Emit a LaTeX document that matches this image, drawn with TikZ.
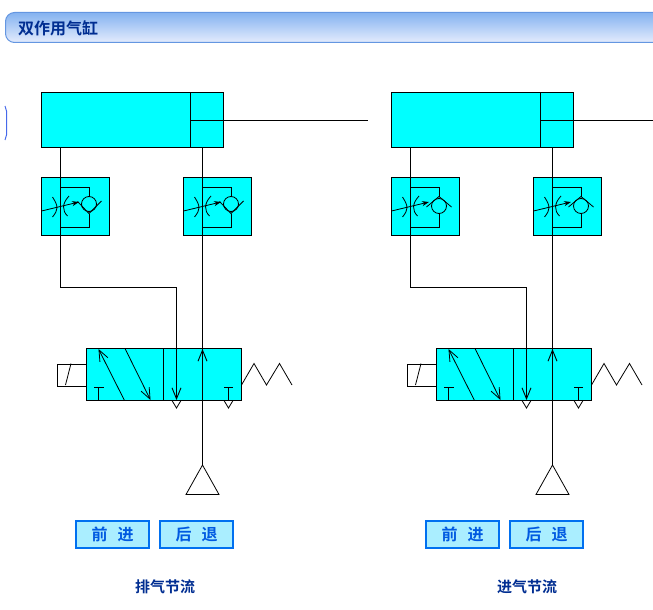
\documentclass[tikz,border=0pt]{standalone}
\usepackage{fontspec}
\newfontfamily\cjk{Noto Sans CJK SC}[BoldFont={Noto Sans CJK SC Bold}]
\usepackage{tikz}
\usetikzlibrary{positioning, arrows.meta}

\definecolor{bodycyan}{RGB}{0,255,255}
\definecolor{headblue}{RGB}{0,45,145}
\definecolor{headline}{RGB}{100,150,225}
\definecolor{headtop}{RGB}{132,178,240}
\definecolor{headmid}{RGB}{170,200,245}
\definecolor{headlow}{RGB}{228,236,253}
\definecolor{btnblue}{RGB}{0,112,240}
\definecolor{btntext}{RGB}{0,90,225}
\definecolor{btnfill}{RGB}{170,238,255}

\tikzset{
    body/.style={rectangle, draw=black, fill=bodycyan, line width=1pt, inner sep=0pt, outer sep=0pt},
    pipe/.style={line width=0.9pt, black},
    sym/.style={line width=0.8pt, black},
    flowtip/.style={-{Stealth[length=7pt, width=5pt]}},
    opentip/.style={-{Straight Barb[length=11pt, width=9pt]}},
    btn/.style={rectangle, draw=btnblue, fill=btnfill, line width=2pt, minimum width=73pt, minimum height=27pt, inner sep=0pt, outer sep=0pt, font=\cjk\bfseries\fontsize{16}{16}\selectfont, text=btntext},
    caption/.style={font=\cjk\bfseries\fontsize{15}{15}\selectfont, text=headblue, inner sep=0pt},
    % flow control symbol, argument 1 = check valve seat below, -1 = seat above
    flowsym/.pic={
        \draw[sym] (11.5,19.5) .. controls (17.5,29) and (17.5,32) .. (11.5,39.5);
        \draw[sym] (28,18.5) .. controls (21,26) and (21,33) .. (26.5,38.5);
        \draw[sym, flowtip] (0.5,33.5) -- (38,24.5);
        \draw[sym] (19,9.5) -- (48,9.5) -- (48,19);
        \draw[sym] (48,36) -- (48,49.5) -- (19,49.5);
        \ifnum#1=1
            \draw[sym] (48,26.5) circle[radius=7.5];
            \draw[sym] (36.5,24) -- (48,36) -- (60.5,23.5);
        \else
            \draw[sym] (48,28.5) circle[radius=7.5];
            \draw[sym] (35.5,29.5) -- (48,19) -- (60.5,29.5);
        \fi
    }
}

\begin{document}
\begin{tikzpicture}[x=1pt, y=-1pt]
    \useasboundingbox (0,0) rectangle (653,610);
    \clip (0,0) rectangle (653,610);
    % title bar
    \shade[top color=headtop, middle color=headmid, bottom color=headlow, draw=headline, line width=1pt, rounded corners=9pt] (670,12.5) -- (5.5,12.5) -- (5.5,42.5) -- (670,42.5) -- cycle;
    \node[right, text=headblue, inner sep=0pt, font=\cjk\bfseries\fontsize{16}{16}\selectfont] (title) at (18,28) {双作用气缸};
    \draw[headline!70!blue, line width=1pt] (5,106) .. controls (6.5,108) .. (6.5,111) -- (6.5,135) .. controls (6.5,138) .. (5,140);

    \foreach \gx/\seat/\sname/\rodx in {0/1/a/368, 350/-1/b/330} {
        \begin{scope}[xshift=\gx pt]
            % cylinder
            \node[body, anchor=north west, minimum width=182pt, minimum height=55pt] (cyl\sname) at (41,92.5) {};
            \coordinate (head\sname) at (190.5,92.5);
            \coordinate (headb\sname) at (190.5,147.5);
            \coordinate (rod\sname) at (190.5,120);
            \coordinate (rodend\sname) at (\rodx,120);
            \draw[pipe] (head\sname) -- (headb\sname);
            \draw[pipe] (rod\sname) -- (rodend\sname);
            % flow controls
            \node[body, anchor=north west, minimum width=68pt, minimum height=58pt] (fca\sname) at (41,177.5) {};
            \node[body, right=74pt of fca\sname, minimum width=68pt, minimum height=58pt] (fcb\sname) {};
            \pic at (fca\sname.north west) {flowsym=\seat};
            \pic at (fcb\sname.north west) {flowsym=\seat};
            % directional valve
            \node[body, anchor=north west, minimum width=155pt, minimum height=52pt] (valve\sname) at (86.5,348.5) {};
            \node[draw=black, line width=0.9pt, inner sep=0pt, outer sep=0pt, left=0pt of valve\sname, yshift=-0.5pt, minimum width=29pt, minimum height=22pt] (sol\sname) {};
            \draw[sym] (71,363.5) -- (65.5,385);
            \coordinate (div\sname) at (163.5,348.5);
            \coordinate (divb\sname) at (163.5,400.5);
            \draw[pipe] (div\sname) -- (divb\sname);
            \draw[sym, opentip] (124.5,400.5) -- (98.5,349);
            \draw[sym, opentip] (125,348.5) -- (150.5,400);
            \draw[sym] (94,387.5) -- (103.5,387.5) (98.5,387.5) -- (98.5,400.5);
            \draw[sym] (224,387.5) -- (233,387.5) (228.5,387.5) -- (228.5,400.5);
            \draw[sym] (172,400.5) -- (176.5,408) -- (181,400.5);
            \draw[sym] (224,400.5) -- (228.5,408) -- (233,400.5);
            \draw[sym] (241.5,385) -- (254,363.5) -- (266.5,385) -- (279.5,363.5) -- (292,385);
            % air supply
            \coordinate (apex\sname) at (202.5,465);
            \draw[sym] (apex\sname) -- (186,494.5) -- (219,494.5) -- cycle;
            % pipes
            \coordinate (porta\sname) at (60,147.5);
            \coordinate (bend\sname) at (60,287.5);
            \coordinate (benda\sname) at (176.5,287.5);
            \coordinate (inlet\sname) at (176.5,400);
            \coordinate (portb\sname) at (202.5,147.5);
            \coordinate (outlet\sname) at (202.5,349);
            \draw[pipe] (porta\sname) -- (bend\sname) -- (benda\sname);
            \draw[pipe, opentip] (benda\sname) -- (inlet\sname);
            \draw[pipe] (portb\sname) -- (apex\sname);
            \draw[pipe, opentip] (202.5,400) -- (outlet\sname);
            % buttons
            \node[btn, anchor=north west] (fwd\sname) at (76,521) {前\hspace{10pt}进};
            \node[btn, right=11pt of fwd\sname] (back\sname) {后\hspace{10pt}退};
        \end{scope}
    }
    \node[caption] (capa) at (165,587) {排气节流};
    \node[caption] (capb) at (527,587) {进气节流};
\end{tikzpicture}
\end{document}
